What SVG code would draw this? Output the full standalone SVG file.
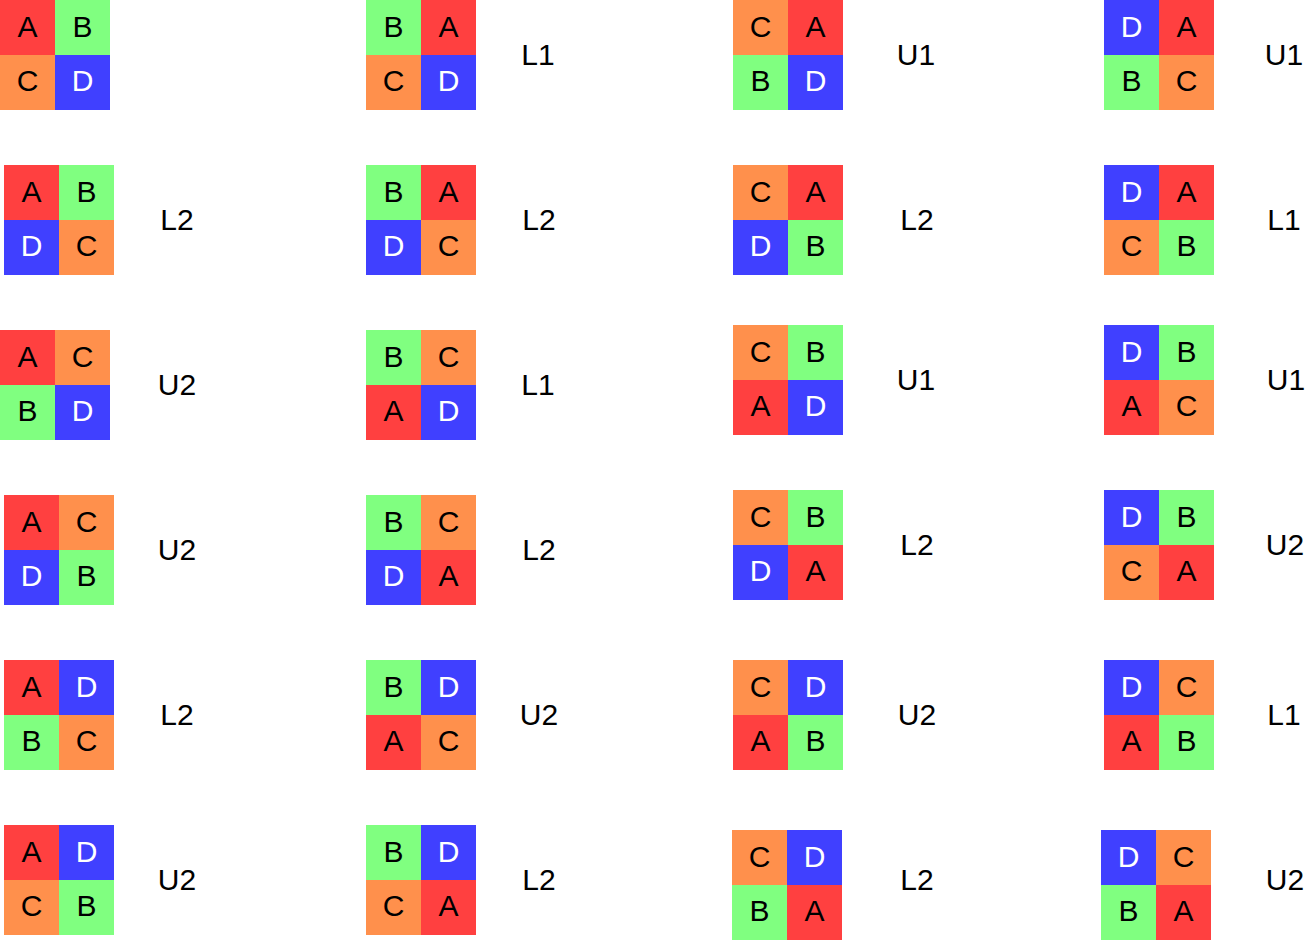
<svg xmlns="http://www.w3.org/2000/svg" width="1315" height="941" viewBox="0 0 1315 941">
<style>
.A{fill:#ff4040}.B{fill:#80ff80}.C{fill:#ff904c}.D{fill:#4040ff}
text{font-family:"Liberation Sans",Arial,Helvetica,sans-serif;font-size:30px;text-anchor:middle;fill:#000}
text.w{fill:#fff}
</style>
<defs>
<rect id="c" width="55" height="55"/>
</defs>
<rect width="1315" height="941" fill="#fff"/>
<g id="connectors"/>

<!-- Row 1 -->
<g id="g11" transform="translate(0,0)">
<use href="#c" class="A" x="0" y="0"/><use href="#c" class="B" x="55" y="0"/><use href="#c" class="C" x="0" y="55"/><use href="#c" class="D" x="55" y="55"/>
<text x="27.5" y="37">A</text><text x="82.5" y="37">B</text><text x="27.5" y="91">C</text><text class="w" x="82.5" y="91">D</text>
</g>
<g id="g12" transform="translate(366,0)">
<use href="#c" class="B" x="0" y="0"/><use href="#c" class="A" x="55" y="0"/><use href="#c" class="C" x="0" y="55"/><use href="#c" class="D" x="55" y="55"/>
<text x="27.5" y="37">B</text><text x="82.5" y="37">A</text><text x="27.5" y="91">C</text><text class="w" x="82.5" y="91">D</text>
</g>
<g id="g13" transform="translate(733,0)">
<use href="#c" class="C" x="0" y="0"/><use href="#c" class="A" x="55" y="0"/><use href="#c" class="B" x="0" y="55"/><use href="#c" class="D" x="55" y="55"/>
<text x="27.5" y="37">C</text><text x="82.5" y="37">A</text><text x="27.5" y="91">B</text><text class="w" x="82.5" y="91">D</text>
</g>
<g id="g14" transform="translate(1104,0)">
<use href="#c" class="D" x="0" y="0"/><use href="#c" class="A" x="55" y="0"/><use href="#c" class="B" x="0" y="55"/><use href="#c" class="C" x="55" y="55"/>
<text class="w" x="27.5" y="37">D</text><text x="82.5" y="37">A</text><text x="27.5" y="91">B</text><text x="82.5" y="91">C</text>
</g>

<!-- Row 2 -->
<g id="g21" transform="translate(4,165)">
<use href="#c" class="A" x="0" y="0"/><use href="#c" class="B" x="55" y="0"/><use href="#c" class="D" x="0" y="55"/><use href="#c" class="C" x="55" y="55"/>
<text x="27.5" y="37">A</text><text x="82.5" y="37">B</text><text class="w" x="27.5" y="91">D</text><text x="82.5" y="91">C</text>
</g>
<g id="g22" transform="translate(366,165)">
<use href="#c" class="B" x="0" y="0"/><use href="#c" class="A" x="55" y="0"/><use href="#c" class="D" x="0" y="55"/><use href="#c" class="C" x="55" y="55"/>
<text x="27.5" y="37">B</text><text x="82.5" y="37">A</text><text class="w" x="27.5" y="91">D</text><text x="82.5" y="91">C</text>
</g>
<g id="g23" transform="translate(733,165)">
<use href="#c" class="C" x="0" y="0"/><use href="#c" class="A" x="55" y="0"/><use href="#c" class="D" x="0" y="55"/><use href="#c" class="B" x="55" y="55"/>
<text x="27.5" y="37">C</text><text x="82.5" y="37">A</text><text class="w" x="27.5" y="91">D</text><text x="82.5" y="91">B</text>
</g>
<g id="g24" transform="translate(1104,165)">
<use href="#c" class="D" x="0" y="0"/><use href="#c" class="A" x="55" y="0"/><use href="#c" class="C" x="0" y="55"/><use href="#c" class="B" x="55" y="55"/>
<text class="w" x="27.5" y="37">D</text><text x="82.5" y="37">A</text><text x="27.5" y="91">C</text><text x="82.5" y="91">B</text>
</g>

<!-- Row 3 -->
<g id="g31" transform="translate(0,330)">
<use href="#c" class="A" x="0" y="0"/><use href="#c" class="C" x="55" y="0"/><use href="#c" class="B" x="0" y="55"/><use href="#c" class="D" x="55" y="55"/>
<text x="27.5" y="37">A</text><text x="82.5" y="37">C</text><text x="27.5" y="91">B</text><text class="w" x="82.5" y="91">D</text>
</g>
<g id="g32" transform="translate(366,330)">
<use href="#c" class="B" x="0" y="0"/><use href="#c" class="C" x="55" y="0"/><use href="#c" class="A" x="0" y="55"/><use href="#c" class="D" x="55" y="55"/>
<text x="27.5" y="37">B</text><text x="82.5" y="37">C</text><text x="27.5" y="91">A</text><text class="w" x="82.5" y="91">D</text>
</g>
<g id="g33" transform="translate(733,325)">
<use href="#c" class="C" x="0" y="0"/><use href="#c" class="B" x="55" y="0"/><use href="#c" class="A" x="0" y="55"/><use href="#c" class="D" x="55" y="55"/>
<text x="27.5" y="37">C</text><text x="82.5" y="37">B</text><text x="27.5" y="91">A</text><text class="w" x="82.5" y="91">D</text>
</g>
<g id="g34" transform="translate(1104,325)">
<use href="#c" class="D" x="0" y="0"/><use href="#c" class="B" x="55" y="0"/><use href="#c" class="A" x="0" y="55"/><use href="#c" class="C" x="55" y="55"/>
<text class="w" x="27.5" y="37">D</text><text x="82.5" y="37">B</text><text x="27.5" y="91">A</text><text x="82.5" y="91">C</text>
</g>

<!-- Row 4 -->
<g id="g41" transform="translate(4,495)">
<use href="#c" class="A" x="0" y="0"/><use href="#c" class="C" x="55" y="0"/><use href="#c" class="D" x="0" y="55"/><use href="#c" class="B" x="55" y="55"/>
<text x="27.5" y="37">A</text><text x="82.5" y="37">C</text><text class="w" x="27.5" y="91">D</text><text x="82.5" y="91">B</text>
</g>
<g id="g42" transform="translate(366,495)">
<use href="#c" class="B" x="0" y="0"/><use href="#c" class="C" x="55" y="0"/><use href="#c" class="D" x="0" y="55"/><use href="#c" class="A" x="55" y="55"/>
<text x="27.5" y="37">B</text><text x="82.5" y="37">C</text><text class="w" x="27.5" y="91">D</text><text x="82.5" y="91">A</text>
</g>
<g id="g43" transform="translate(733,490)">
<use href="#c" class="C" x="0" y="0"/><use href="#c" class="B" x="55" y="0"/><use href="#c" class="D" x="0" y="55"/><use href="#c" class="A" x="55" y="55"/>
<text x="27.5" y="37">C</text><text x="82.5" y="37">B</text><text class="w" x="27.5" y="91">D</text><text x="82.5" y="91">A</text>
</g>
<g id="g44" transform="translate(1104,490)">
<use href="#c" class="D" x="0" y="0"/><use href="#c" class="B" x="55" y="0"/><use href="#c" class="C" x="0" y="55"/><use href="#c" class="A" x="55" y="55"/>
<text class="w" x="27.5" y="37">D</text><text x="82.5" y="37">B</text><text x="27.5" y="91">C</text><text x="82.5" y="91">A</text>
</g>

<!-- Row 5 -->
<g id="g51" transform="translate(4,660)">
<use href="#c" class="A" x="0" y="0"/><use href="#c" class="D" x="55" y="0"/><use href="#c" class="B" x="0" y="55"/><use href="#c" class="C" x="55" y="55"/>
<text x="27.5" y="37">A</text><text class="w" x="82.5" y="37">D</text><text x="27.5" y="91">B</text><text x="82.5" y="91">C</text>
</g>
<g id="g52" transform="translate(366,660)">
<use href="#c" class="B" x="0" y="0"/><use href="#c" class="D" x="55" y="0"/><use href="#c" class="A" x="0" y="55"/><use href="#c" class="C" x="55" y="55"/>
<text x="27.5" y="37">B</text><text class="w" x="82.5" y="37">D</text><text x="27.5" y="91">A</text><text x="82.5" y="91">C</text>
</g>
<g id="g53" transform="translate(733,660)">
<use href="#c" class="C" x="0" y="0"/><use href="#c" class="D" x="55" y="0"/><use href="#c" class="A" x="0" y="55"/><use href="#c" class="B" x="55" y="55"/>
<text x="27.5" y="37">C</text><text class="w" x="82.5" y="37">D</text><text x="27.5" y="91">A</text><text x="82.5" y="91">B</text>
</g>
<g id="g54" transform="translate(1104,660)">
<use href="#c" class="D" x="0" y="0"/><use href="#c" class="C" x="55" y="0"/><use href="#c" class="A" x="0" y="55"/><use href="#c" class="B" x="55" y="55"/>
<text class="w" x="27.5" y="37">D</text><text x="82.5" y="37">C</text><text x="27.5" y="91">A</text><text x="82.5" y="91">B</text>
</g>

<!-- Row 6 -->
<g id="g61" transform="translate(4,825)">
<use href="#c" class="A" x="0" y="0"/><use href="#c" class="D" x="55" y="0"/><use href="#c" class="C" x="0" y="55"/><use href="#c" class="B" x="55" y="55"/>
<text x="27.5" y="37">A</text><text class="w" x="82.5" y="37">D</text><text x="27.5" y="91">C</text><text x="82.5" y="91">B</text>
</g>
<g id="g62" transform="translate(366,825)">
<use href="#c" class="B" x="0" y="0"/><use href="#c" class="D" x="55" y="0"/><use href="#c" class="C" x="0" y="55"/><use href="#c" class="A" x="55" y="55"/>
<text x="27.5" y="37">B</text><text class="w" x="82.5" y="37">D</text><text x="27.5" y="91">C</text><text x="82.5" y="91">A</text>
</g>
<g id="g63" transform="translate(732,830)">
<use href="#c" class="C" x="0" y="0"/><use href="#c" class="D" x="55" y="0"/><use href="#c" class="B" x="0" y="55"/><use href="#c" class="A" x="55" y="55"/>
<text x="27.5" y="37">C</text><text class="w" x="82.5" y="37">D</text><text x="27.5" y="91">B</text><text x="82.5" y="91">A</text>
</g>
<g id="g64" transform="translate(1101,830)">
<use href="#c" class="D" x="0" y="0"/><use href="#c" class="C" x="55" y="0"/><use href="#c" class="B" x="0" y="55"/><use href="#c" class="A" x="55" y="55"/>
<text class="w" x="27.5" y="37">D</text><text x="82.5" y="37">C</text><text x="27.5" y="91">B</text><text x="82.5" y="91">A</text>
</g>

<!-- Labels -->
<g id="labels">
<text x="538" y="65">L1</text><text x="916" y="65">U1</text><text x="1284" y="65">U1</text>
<text x="177" y="230">L2</text><text x="539" y="230">L2</text><text x="917" y="230">L2</text><text x="1284" y="230">L1</text>
<text x="177" y="395">U2</text><text x="538" y="395">L1</text><text x="916" y="390">U1</text><text x="1286" y="390">U1</text>
<text x="177" y="560">U2</text><text x="539" y="560">L2</text><text x="917" y="555">L2</text><text x="1285" y="555">U2</text>
<text x="177" y="725">L2</text><text x="539" y="725">U2</text><text x="917" y="725">U2</text><text x="1284" y="725">L1</text>
<text x="177" y="890">U2</text><text x="539" y="890">L2</text><text x="917" y="890">L2</text><text x="1285" y="890">U2</text>
</g>
</svg>
